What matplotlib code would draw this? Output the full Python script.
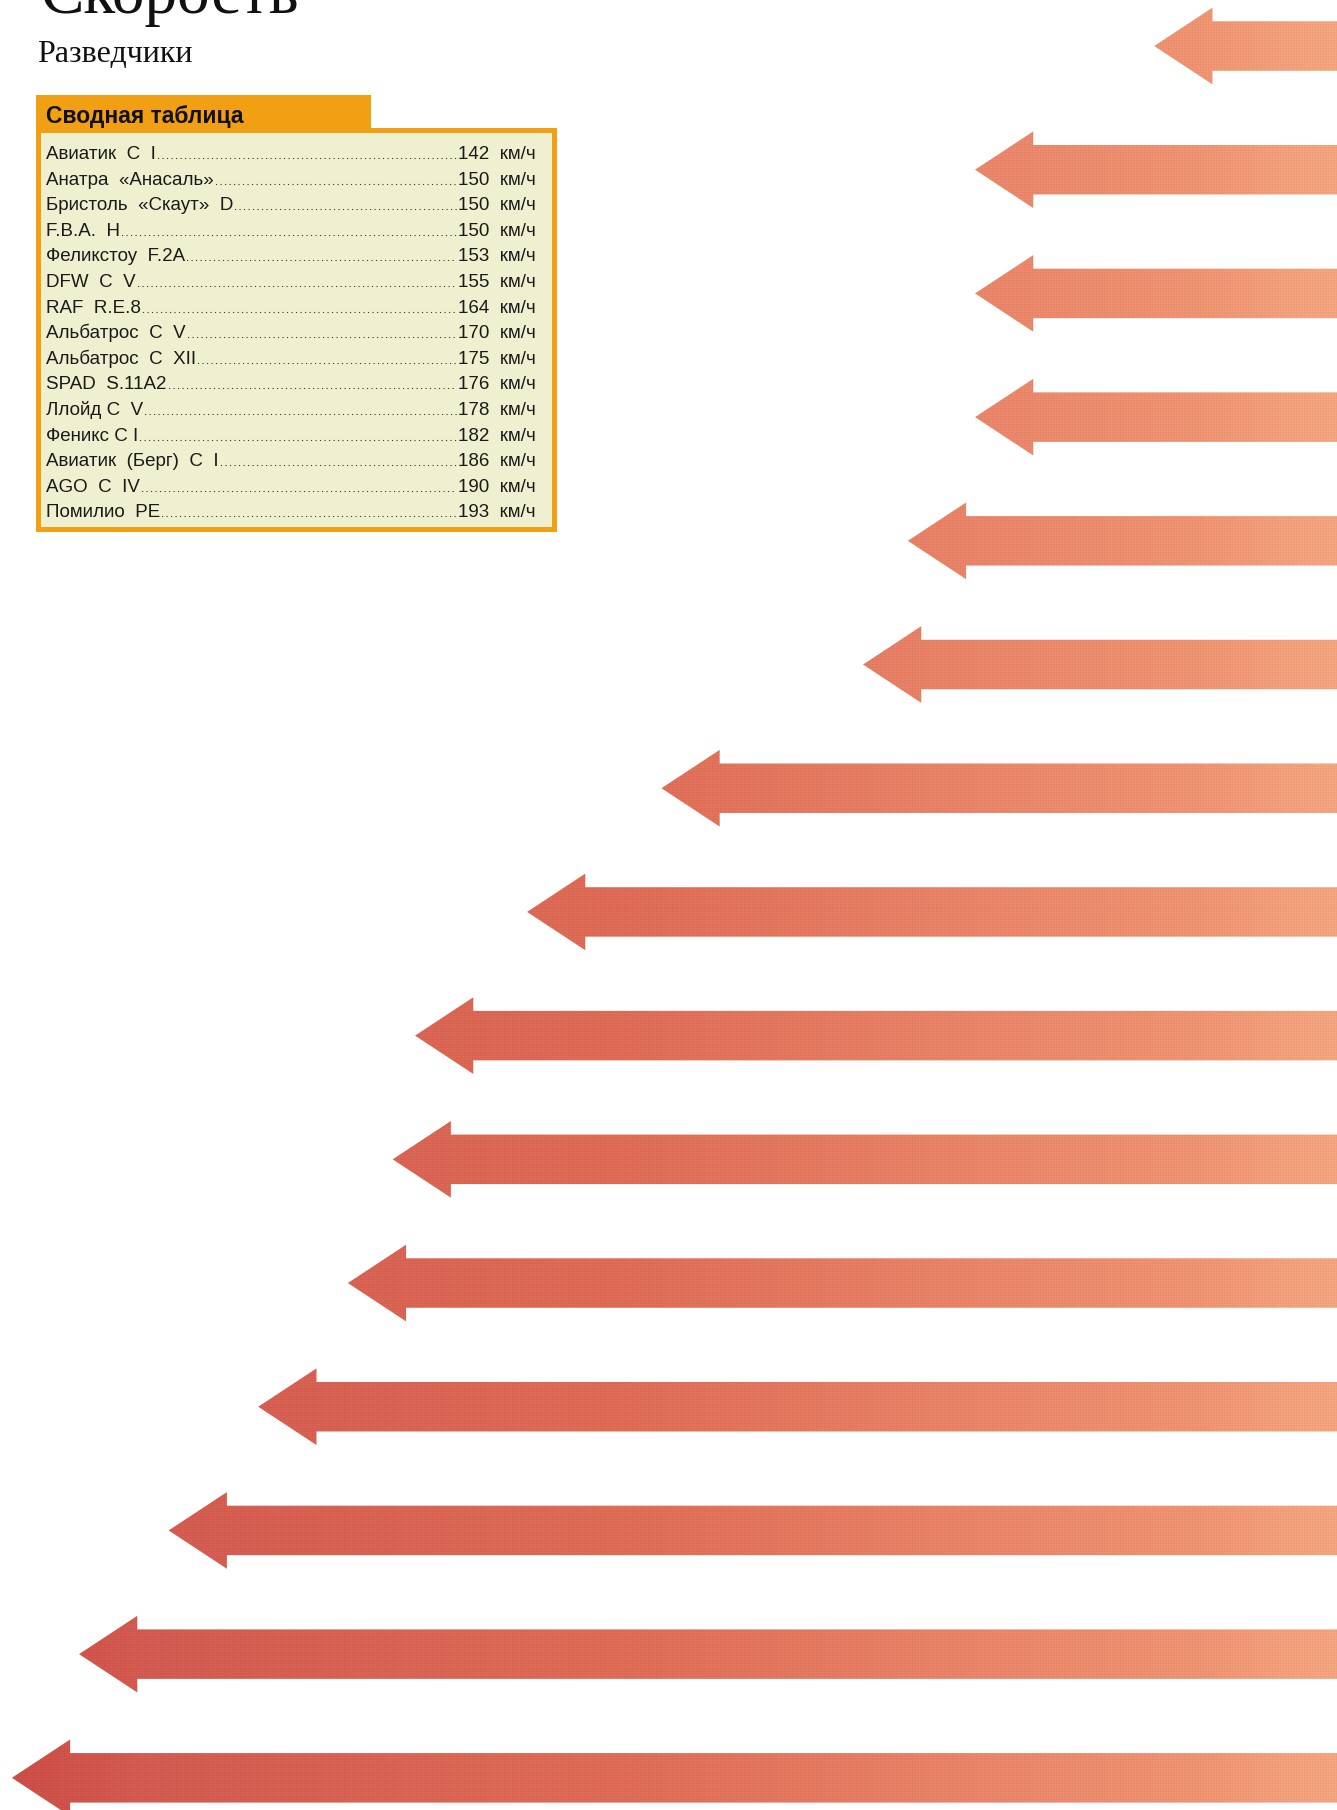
import matplotlib
matplotlib.use("Agg")
import matplotlib.pyplot as plt
import numpy as np
from matplotlib.patches import FancyArrow, Rectangle, PathPatch
from matplotlib.path import Path
from matplotlib.colors import LinearSegmentedColormap

# ---- data -------------------------------------------------------------
aircraft = [
    "Авиатик  С  I",
    "Анатра  «Анасаль»",
    "Бристоль  «Скаут»  D",
    "F.B.A.  H",
    "Феликстоу  F.2A",
    "DFW  C  V",
    "RAF  R.E.8",
    "Альбатрос  С  V",
    "Альбатрос  С  XII",
    "SPAD  S.11A2",
    "Ллойд С  V",
    "Феникс С I",
    "Авиатик  (Берг)  С  I",
    "AGO  C  IV",
    "Помилио  PE",
]
speeds = [142, 150, 150, 150, 153, 155, 164, 170, 175, 176, 178, 182, 186, 190, 193]
unit = "км/ч"
title = "Скорость"
subtitle = "Разведчики"
table_title = "Сводная таблица"

# ---- figure -------------------------------------------------------------
W, H, DPI = 1337, 1810, 100
fig = plt.figure(figsize=(W / DPI, H / DPI), dpi=DPI)
fig.patch.set_facecolor("white")

# speed axis runs right-to-left: faster aircraft reach further left
X_LEFT, X_RIGHT = 193.53, 133.84
Y_TOP, Y_BOT = -0.372, 14.26
ax = fig.add_axes([0, 0, 1, 1])
ax.set_xlim(X_LEFT, X_RIGHT)
ax.set_ylim(Y_BOT, Y_TOP)
ax.axis("off")

shaft_w = 0.40
head_w = 0.62
head_len = 2.6
tail = 120.0

verts, codes = [], []
for i, v in enumerate(speeds):
    arr = FancyArrow(tail, i, v - tail, 0, width=shaft_w, head_width=head_w,
                     head_length=head_len, length_includes_head=True)
    xy = arr.get_xy()
    verts.extend(xy.tolist())
    codes.extend([Path.MOVETO] + [Path.LINETO] * (len(xy) - 2) + [Path.CLOSEPOLY])
arrows_path = Path(verts, codes)
clip = PathPatch(arrows_path, facecolor="none", edgecolor="none", transform=ax.transData)
ax.add_patch(clip)

cmap = LinearSegmentedColormap.from_list("arrows", [
    (0.00, "#CB4C45"),
    (0.10, "#D25A50"),
    (0.47, "#DE6C56"),
    (0.75, "#E9866A"),
    (0.90, "#EE9371"),
    (0.97, "#F2A07C"),
    (1.00, "#F3A47E"),
])

# horizontal colour ramp with a fine printed-screen texture
yy, xx = np.mgrid[0:H, 0:W]
ramp = cmap(xx / (W - 1))[..., :3]
screen = 1.0 + 0.035 * np.sin(2 * np.pi * (xx + yy) / 3.2) * np.sin(2 * np.pi * (xx - yy) / 3.2)
rgb = np.clip(ramp * screen[..., None], 0, 1)
img = ax.imshow(rgb, aspect="auto", interpolation="nearest",
                extent=(X_LEFT, X_RIGHT, Y_BOT, Y_TOP), zorder=1)
img.set_clip_path(clip)
ax.set_xlim(X_LEFT, X_RIGHT)
ax.set_ylim(Y_BOT, Y_TOP)

# ---- overlay in pixel units for titles and the table -------------------
ov = fig.add_axes([0, 0, 1, 1])
ov.set_xlim(0, W)
ov.set_ylim(H, 0)
ov.axis("off")
ov.patch.set_alpha(0)

serif = ["Liberation Serif", "DejaVu Serif"]
sans = ["Liberation Sans", "DejaVu Sans"]

ov.text(40, 13, title, fontsize=47, family=serif, color="#111111",
        ha="left", va="baseline")
ov.text(37, 62, subtitle, fontsize=23, family=serif, color="#111111",
        ha="left", va="baseline")

orange = "#F2A013"
panel = "#EEF0CF"
ov.add_patch(Rectangle((36, 95), 335, 36, facecolor=orange, edgecolor="none", zorder=2))
ov.add_patch(Rectangle((36, 128), 521, 404, facecolor=orange, edgecolor="none", zorder=2))
ov.add_patch(Rectangle((41, 133), 511, 394, facecolor=panel, edgecolor="none", zorder=3))
ov.text(46, 123, table_title, fontsize=16.5, fontweight="bold", family=sans,
        color="#111111", ha="left", va="baseline", zorder=4)

row0, row_step = 159, 25.6
val_x = 458
labels = []
for i, (name, v) in enumerate(zip(aircraft, speeds)):
    yb = row0 + i * row_step
    t = ov.text(46, yb, name, fontsize=13.5, family=sans, color="#1a1a1a",
                ha="left", va="baseline", zorder=4)
    ov.text(val_x, yb, f"{v}  {unit}", fontsize=13.5, family=sans, color="#1a1a1a",
            ha="left", va="baseline", zorder=4)
    labels.append((t, yb))

fig.canvas.draw()
renderer = fig.canvas.get_renderer()
inv = ov.transData.inverted()
for t, yb in labels:
    bb = t.get_window_extent(renderer)
    x_end = inv.transform((bb.x1, bb.y0))[0]
    ov.plot([x_end + 2, val_x - 2], [yb - 1, yb - 1], color="#333333", lw=0.9,
            linestyle=(0, (0.1, 3.5)), dash_capstyle="round", zorder=4)

fig.savefig("out.png", dpi=DPI, facecolor="white")
